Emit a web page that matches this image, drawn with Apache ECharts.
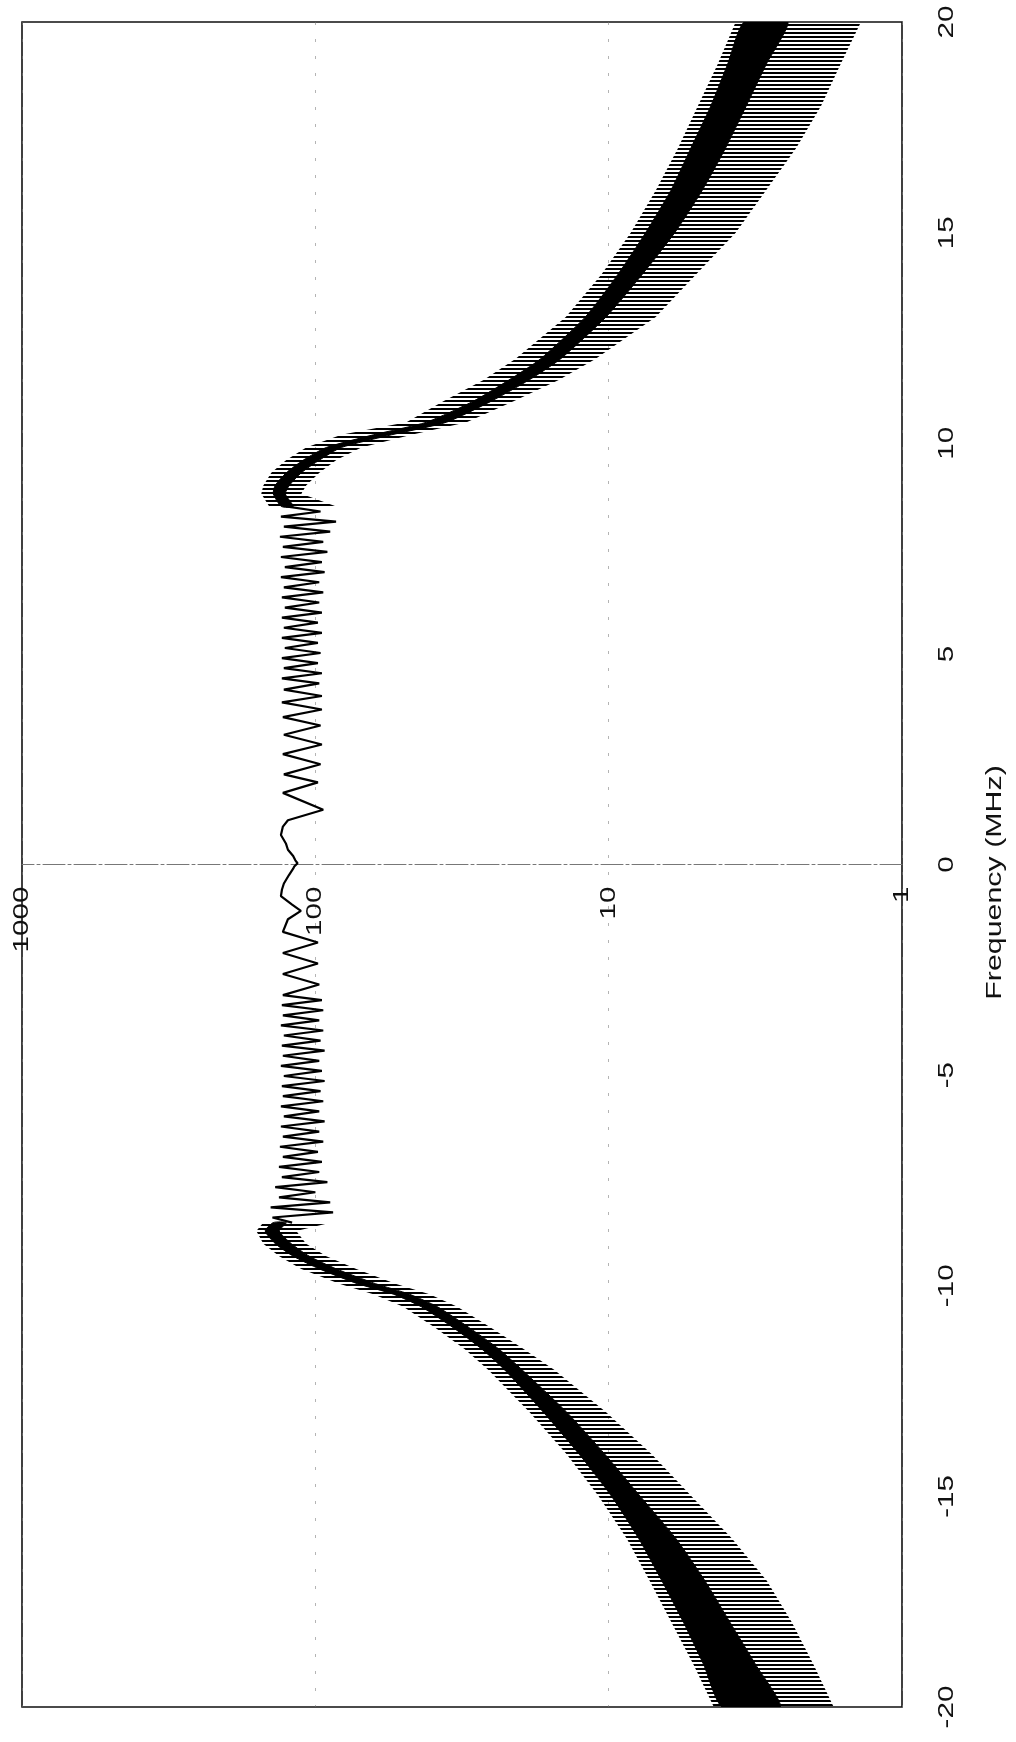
<!DOCTYPE html>
<html>
<head>
<meta charset="utf-8">
<script src="https://cdn.jsdelivr.net/npm/echarts@6/dist/echarts.min.js"></script>
<style>
html,body{margin:0;padding:0;background:#fff;}
#chart{width:1016px;height:1742px;}
</style>
</head>
<body>
<div id="chart"></div>
<script>
// ---- axis ticks / labels ----
const freqTicks = [20, 15, 10, 5, 0, -5, -10, -15, -20];
const freqTickLabels = ['20', '15', '10', '5', '0', '-5', '-10', '-15', '-20'];
const magTicks = [1000, 100, 10, 1];
const magTickLabels = ['1000', '100', '10', '1'];
const axisTitle = 'Frequency (MHz)';

// ---- passband ripple trace: [magnitude, frequency (MHz)] ----
const passband = [
  [126,8.5],[96,8.38],[131,8.26],[85,8.14],[128,8.02],[89,7.90],[132,7.78],[94,7.66],[129,7.54],[91,7.42],
  [131,7.30],[95,7.18],[127,7.06],[93,6.94],[131,6.82],[97,6.70],[128,6.58],[94,6.46],[130,6.34],[97,6.22],
  [127,6.10],[95,5.98],[130,5.86],[98,5.74],[128,5.62],[95,5.50],[130,5.38],[98,5.26],[127,5.14],[96,5.02],
  [130,4.90],[98,4.78],[128,4.66],[95,4.54],[130,4.42],[97,4.30],[128,4.15],[95,4.00],[130,3.85],[95,3.68],
  [129,3.50],[96,3.30],[128,3.08],[95,2.85],[129,2.62],[96,2.38],[128,2.14],[98,1.95],[129,1.70],[94,1.30],
  [124,1.05],[129,0.9],[131,0.7],[126,0.5],[124,0.35],[119,0.2],[117,0.1],[115,0.03],[118,-0.05],[119,-0.1],
  [123,-0.25],[128,-0.45],[130,-0.6],[131,-0.75],[120,-0.95],[112,-1.1],[124,-1.3],[129,-1.6],[98,-1.85],[129,-2.1],
  [98,-2.35],[129,-2.6],[97,-2.85],[129,-3.1],[95,-3.22],[130,-3.34],[94,-3.46],[129,-3.58],[97,-3.70],[131,-3.82],
  [94,-3.94],[128,-4.06],[96,-4.18],[130,-4.30],[93,-4.42],[129,-4.54],[97,-4.66],[131,-4.78],[95,-4.90],[128,-5.02],
  [93,-5.14],[130,-5.26],[96,-5.38],[129,-5.50],[94,-5.62],[131,-5.74],[97,-5.86],[128,-5.98],[93,-6.10],[131,-6.22],
  [97,-6.34],[129,-6.46],[94,-6.58],[132,-6.70],[98,-6.82],[129,-6.94],[95,-7.06],[133,-7.18],[97,-7.30],[130,-7.42],
  [91,-7.54],[137,-7.66],[100,-7.78],[133,-7.90],[89,-8.02],[142,-8.14],[87,-8.26],[140,-8.38],[120,-8.5]
];

// ---- upper stopband (positive frequencies): envelopes of the dense oscillation ----
const posFreq      = [8.5, 8.8, 9.0, 9.3, 9.6, 9.9, 10.2, 10.5, 11, 11.5, 12, 13, 14, 15, 16, 17, 18, 19, 20];
const posPeak      = [143.6, 152.8, 150.4, 141.3, 125.6, 107.4, 81.5, 48.9, 36.6, 26.7, 20.8, 14.0, 10.6, 8.41, 6.91, 5.81, 4.97, 4.25, 3.69];
const posCoreHigh  = [130.6, 139.1, 137.0, 125.6, 109.9, 91.7, 63.4, 41.8, 28.9, 21.9, 17.1, 12.0, 9.32, 7.48, 6.14, 5.25, 4.49, 3.93, 3.45];
const posCoreLow   = [118.9, 126.6, 122.6, 111.6, 96.9, 81.5, 55.0, 35.7, 25.1, 18.7, 14.6, 10.2, 7.70, 5.95, 4.80, 4.00, 3.40, 2.90, 2.45];
const posDip       = [84.8, 111.6, 107.5, 96.9, 84.8, 69.7, 47.0, 30.5, 21.1, 14.8, 11.1, 6.91, 5.05, 3.69, 2.91, 2.30, 1.89, 1.62, 1.38];

// ---- lower stopband (negative frequencies) ----
const negFreq      = [-8.5, -8.7, -9.0, -9.3, -9.6, -9.95, -10.2, -10.5, -11, -11.5, -12, -13, -14, -15, -16, -17, -18, -19, -20];
const negPeak      = [150.4, 158.9, 150.4, 132.7, 111.6, 82.8, 63.4, 50.1, 38.9, 31.0, 25.7, 18.6, 13.9, 10.8, 8.68, 7.25, 6.10, 5.13, 4.38];
const negCoreHigh  = [139.1, 148.2, 137.0, 118.9, 96.9, 71.9, 54.2, 43.5, 33.8, 27.1, 22.6, 16.7, 12.6, 9.77, 7.90, 6.59, 5.55, 4.74, 4.10];
const negCoreLow   = [125.6, 132.7, 120.8, 104.8, 84.8, 62.4, 47.8, 38.3, 29.8, 23.7, 19.7, 13.9, 10.3, 7.80, 5.90, 4.70, 3.85, 3.15, 2.60];
const negDip       = [88.2, 116.1, 107.5, 91.7, 72.5, 53.3, 40.8, 32.8, 25.1, 19.5, 15.3, 10.2, 7.13, 5.21, 3.80, 2.89, 2.37, 2.00, 1.71];

const bands = [
  {f: posFreq, peak: posPeak, hi: posCoreHigh, lo: posCoreLow, dip: posDip},
  {f: negFreq, peak: negPeak, hi: negCoreHigh, lo: negCoreLow, dip: negDip}
];

// hatch pattern (horizontal strokes of the dense oscillation)
const pc = document.createElement('canvas');
pc.width = 8; pc.height = 4;
const pctx = pc.getContext('2d');
pctx.fillStyle = '#000';
pctx.fillRect(0, 0, 8, 2);
const hatch = {image: pc, repeat: 'repeat'};

const FONT = '"Liberation Sans", Arial, Helvetica, sans-serif';

const chart = echarts.init(document.getElementById('chart'), null, {renderer: 'canvas'});

const option = {
  animation: false,
  backgroundColor: '#fff',
  grid: {
    left: 22, right: 114, top: 22, bottom: 35,
    show: true, borderColor: '#111', borderWidth: 1.6, backgroundColor: 'transparent'
  },
  xAxis: {
    type: 'log', logBase: 10, min: 1, max: 1000, inverse: true,
    axisLine: {show: true, onZero: true, lineStyle: {color: '#777', width: 1, type: [22, 3, 3, 3]}},
    axisTick: {show: false},
    axisLabel: {show: false},
    splitLine: {show: true, lineStyle: {color: '#777', width: 1, type: [3, 14], opacity: 0.55}},
    minorSplitLine: {show: false}
  },
  yAxis: {
    type: 'value', min: -20, max: 20, interval: 5, position: 'right',
    axisLine: {show: false}, axisTick: {show: false}, axisLabel: {show: false},
    splitLine: {show: false}
  },
  series: [
    {
      type: 'custom',
      coordinateSystem: 'cartesian2d',
      clip: true,
      data: bands.map(b => [b.hi[0], b.f[0]]),
      renderItem: function (params, api) {
        const b = bands[params.dataIndex];
        const hatchPts = [];
        const corePts = [];
        for (let i = 0; i < b.f.length; i++) hatchPts.push(api.coord([b.peak[i], b.f[i]]));
        for (let i = b.f.length - 1; i >= 0; i--) hatchPts.push(api.coord([b.dip[i], b.f[i]]));
        for (let i = 0; i < b.f.length; i++) corePts.push(api.coord([b.hi[i], b.f[i]]));
        for (let i = b.f.length - 1; i >= 0; i--) corePts.push(api.coord([b.lo[i], b.f[i]]));
        return {
          type: 'group',
          children: [
            {type: 'polygon', shape: {points: hatchPts}, style: {fill: hatch, stroke: null}},
            {type: 'polygon', shape: {points: corePts, smooth: 0.2}, style: {fill: '#000', stroke: '#000', lineWidth: 1}}
          ]
        };
      },
      z: 2
    },
    {
      type: 'line',
      data: passband,
      showSymbol: false,
      symbol: 'none',
      clip: true,
      lineStyle: {color: '#000', width: 2.2},
      z: 3
    }
  ]
};
chart.setOption(option);

// rotated, stretched labels (the page is printed sideways)
const graphics = [];
const rightX = chart.convertToPixel({xAxisIndex: 0}, 1);
const zeroY = chart.convertToPixel({yAxisIndex: 0}, 0);
freqTicks.forEach((f, i) => {
  const y = chart.convertToPixel({yAxisIndex: 0}, f);
  graphics.push({
    type: 'text', x: rightX + 45, y: y, rotation: Math.PI / 2, scaleX: 1.35,
    style: {text: freqTickLabels[i], font: '22px ' + FONT, fill: '#111', align: 'center', verticalAlign: 'middle'}
  });
});
magTicks.forEach((v, i) => {
  const x = chart.convertToPixel({xAxisIndex: 0}, v);
  graphics.push({
    type: 'text', x: x, y: zeroY + 22, rotation: Math.PI / 2, scaleX: 1.35,
    style: {text: magTickLabels[i], font: '22px ' + FONT, fill: '#111', align: 'right', verticalAlign: 'middle'}
  });
});
graphics.push({
  type: 'text', x: rightX + 93, y: zeroY + 18, rotation: Math.PI / 2, scaleX: 1.38,
  style: {text: axisTitle, font: '22px ' + FONT, fill: '#111', align: 'center', verticalAlign: 'middle'}
});
chart.setOption({graphic: graphics});
</script>
</body>
</html>
